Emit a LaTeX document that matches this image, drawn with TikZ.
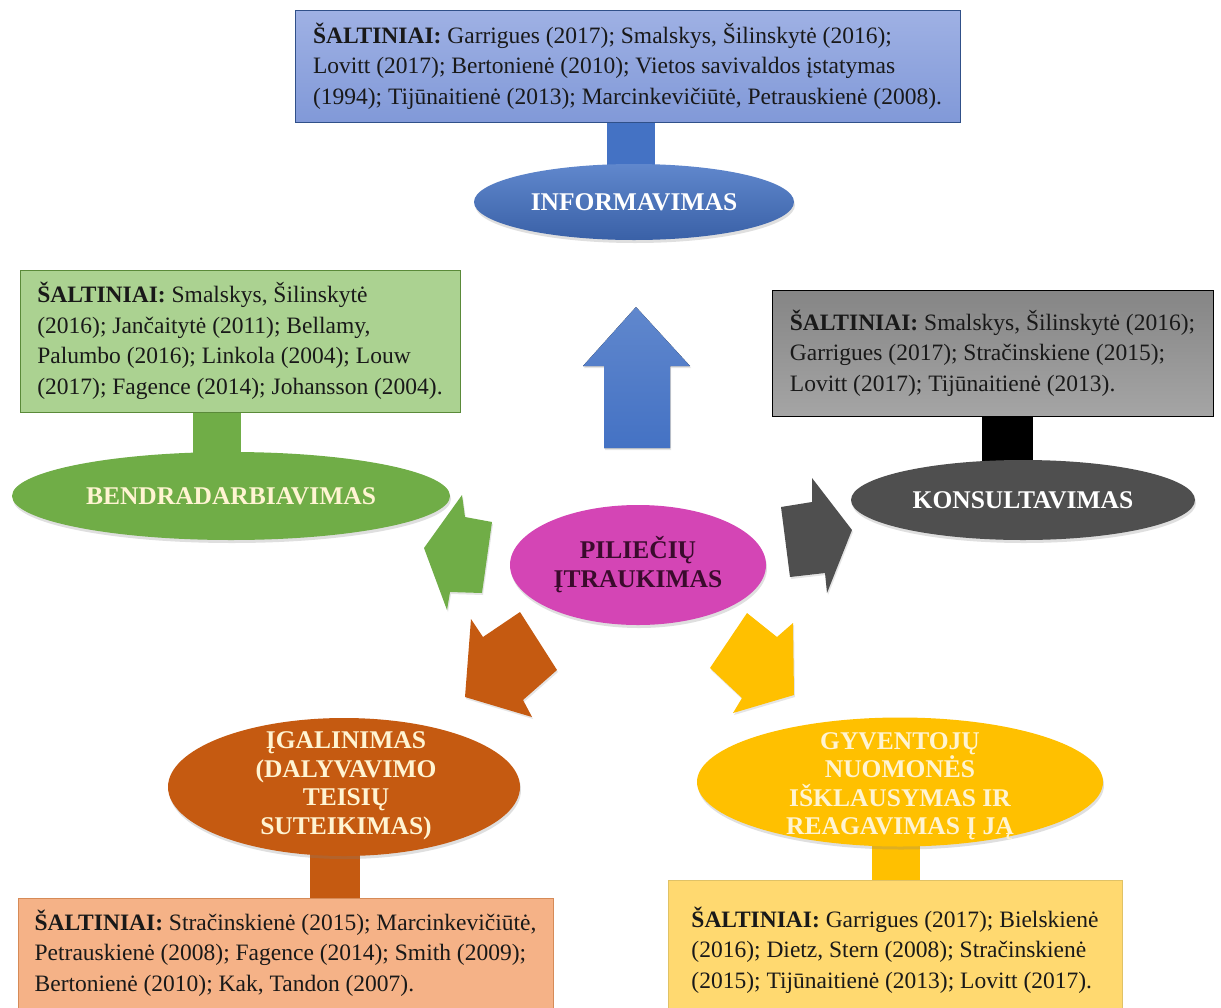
\documentclass[tikz,border=0pt]{standalone}
\usepackage{fontspec}
\setmainfont{Liberation Serif}
\usetikzlibrary{shapes.geometric,shadows,backgrounds}

\definecolor{infoblue}{HTML}{4472C4}
\definecolor{infoboxtop}{HTML}{9FB1E4}
\definecolor{infoboxbot}{HTML}{8199D8}
\definecolor{collabgreen}{HTML}{70AD47}
\definecolor{collabbox}{HTML}{ABD291}
\definecolor{consultgray}{HTML}{4F4F4F}
\definecolor{consultboxtop}{HTML}{858585}
\definecolor{consultboxbot}{HTML}{A5A5A5}
\definecolor{centermag}{HTML}{D445B5}
\definecolor{centertext}{HTML}{3A0B2C}
\definecolor{empowerorange}{HTML}{C55A11}
\definecolor{empowerbox}{HTML}{F5B287}
\definecolor{listenyellow}{HTML}{FFC000}
\definecolor{listenbox}{HTML}{FFD970}
\definecolor{cream}{HTML}{FFF4D2}

\tikzset{
  srcbox/.style={draw, rectangle, align=left, inner sep=0pt, text=black!90,
    font=\fontsize{23.5}{30.5}\selectfont},
  ell/.style={ellipse, inner sep=0pt, text=white, align=center,
    font=\bfseries\fontsize{25.5}{29}\selectfont,
    drop shadow={opacity=0.25, shadow xshift=1pt, shadow yshift=-3pt}},
  elltext/.style={align=center, inner sep=0pt, text=cream,
    font=\bfseries\fontsize{25.5}{28.5}\selectfont},
  stem/.style={line width=48pt},
  blockarrow/.style={draw=none, drop shadow={opacity=0.2, shadow xshift=1pt, shadow yshift=-2pt}}
}

\begin{document}
\begin{tikzpicture}[x=1pt, y=-1pt]
  \useasboundingbox (0,0) rectangle (1221,1007);
  \clip (0,0) rectangle (1221,1007);

  % source boxes
  \node (infoBox)[srcbox, draw=infoblue!70!black, top color=infoboxtop, bottom color=infoboxbot,
    minimum width=665, minimum height=112] at (627.5,66)
    {\textbf{ŠALTINIAI:} Garrigues (2017); Smalskys, Šilinskytė (2016);\\
     Lovitt (2017); Bertonienė (2010); Vietos savivaldos įstatymas\\
     (1994); Tijūnaitienė (2013); Marcinkevičiūtė, Petrauskienė (2008).};
  \node (collabBox)[srcbox, draw=collabgreen!80!black, fill=collabbox,
    minimum width=440, minimum height=142] at (240,341)
    {\textbf{ŠALTINIAI:} Smalskys, Šilinskytė\\
     (2016); Jančaitytė (2011); Bellamy,\\
     Palumbo (2016); Linkola (2004); Louw\\
     (2017); Fagence (2014); Johansson (2004).};
  \node (consultBox)[srcbox, draw=black, top color=consultboxtop, bottom color=consultboxbot,
    minimum width=441, minimum height=126] at (992.5,353)
    {\textbf{ŠALTINIAI:} Smalskys, Šilinskytė (2016);\\
     Garrigues (2017); Stračinskiene (2015);\\
     Lovitt (2017); Tijūnaitienė (2013).};
  \node (empowerBox)[srcbox, draw=empowerorange!70, fill=empowerbox,
    minimum width=535, minimum height=110] at (285.5,953)
    {\textbf{ŠALTINIAI:} Stračinskienė (2015); Marcinkevičiūtė,\\
     Petrauskienė (2008); Fagence (2014); Smith (2009);\\
     Bertonienė (2010); Kak, Tandon (2007).};
  \node (listenBox)[srcbox, draw=listenyellow!80!black!60, fill=listenbox,
    minimum width=454, minimum height=140] at (895,950)
    {\textbf{ŠALTINIAI:} Garrigues (2017); Bielskienė\\
     (2016); Dietz, Stern (2008); Stračinskienė\\
     (2015); Tijūnaitienė (2013); Lovitt (2017).};

  % ellipses
  \node (info)[ell, top color=infoblue!85!white, bottom color=infoblue!85!black,
    minimum width=320, minimum height=76] at (634,202) {INFORMAVIMAS};
  \node (collab)[ell, fill=collabgreen, text=cream,
    minimum width=438, minimum height=88] at (231,496) {BENDRADARBIAVIMAS};
  \node (consult)[ell, fill=consultgray,
    minimum width=344, minimum height=80] at (1023,500) {KONSULTAVIMAS};
  \node (center)[ell, fill=centermag, text=centertext,
    minimum width=256, minimum height=120] at (638,565) {PILIEČIŲ\\ĮTRAUKIMAS};
  \node (empower)[ell, fill=empowerorange,
    minimum width=352, minimum height=138] at (344,787) {};
  \node (empowerText)[elltext] at (346,786)
    {ĮGALINIMAS\\(DALYVAVIMO\\TEISIŲ\\SUTEIKIMAS)};
  \node (listen)[ell, fill=listenyellow,
    minimum width=406, minimum height=129] at (900,782) {};
  \node (listenText)[elltext] at (900,786)
    {GYVENTOJŲ\\NUOMONĖS\\IŠKLAUSYMAS IR\\REAGAVIMAS Į JĄ};

  % block arrows round the centre
  \fill[blockarrow, top color=infoblue!85!white, bottom color=infoblue]
    (636,307) -- (690,366) -- (670,366) -- (670,448) -- (604,448) -- (604,366) -- (583,366) -- cycle;
  \fill[blockarrow, collabgreen]
    (424,548) -- (462,495) -- (465,517) -- (492,522) -- (482,593) -- (450,592) -- (447,610) -- cycle;
  \fill[blockarrow, consultgray]
    (852,530) -- (827,593) -- (825,573) -- (790,577) -- (781,507) -- (812,502) -- (812,478) -- cycle;
  \fill[blockarrow, empowerorange]
    (465,697) -- (471,619) -- (483,637) -- (520,612) -- (557,670) -- (523,700) -- (532,717) -- cycle;
  \fill[blockarrow, listenyellow]
    (794,695) -- (733,713) -- (742,698) -- (710,668) -- (747,613) -- (777,637) -- (793,623) -- cycle;

  % stems between ellipses and boxes
  \begin{pgfonlayer}{background}
    \fill[white] (0,0) rectangle (1221,1007);
    \draw[stem, infoblue] ([xshift=-3pt]info.center) -- ([xshift=-3pt]info.center |- infoBox.center);
    \draw[stem, collabgreen] ([xshift=-14pt]collab.center) -- ([xshift=-14pt]collab.center |- collabBox.center);
    \draw[stem, black, line width=51pt] ([xshift=-15.5pt]consult.center) -- ([xshift=-15.5pt]consult.center |- consultBox.center);
    \draw[stem, empowerorange, line width=50pt] ([xshift=-9pt]empower.center) -- ([xshift=-9pt]empower.center |- empowerBox.center);
    \draw[stem, listenyellow] ([xshift=-4pt]listen.center) -- ([xshift=-4pt]listen.center |- listenBox.center);
  \end{pgfonlayer}
\end{tikzpicture}
\end{document}
